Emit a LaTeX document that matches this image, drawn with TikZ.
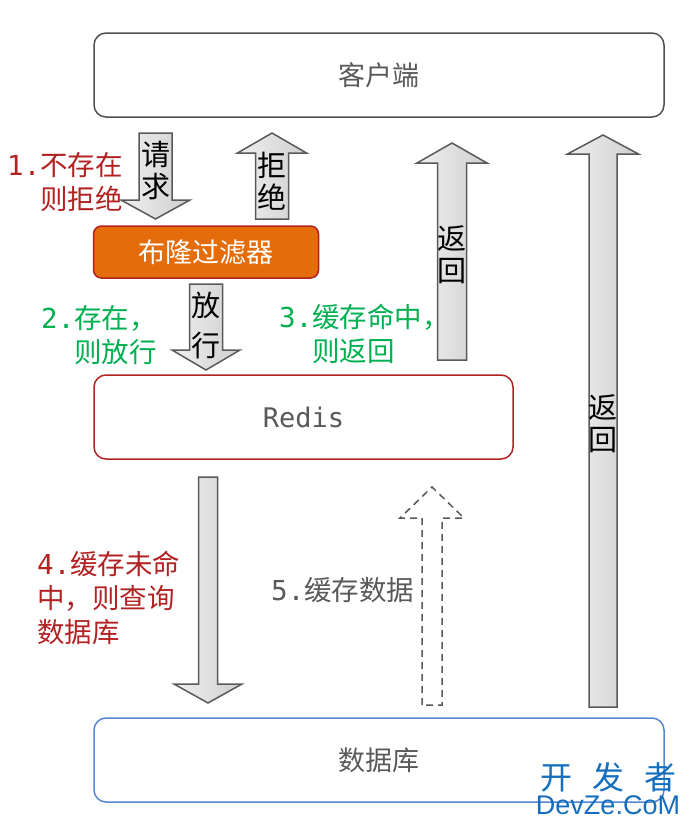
\documentclass[tikz,border=0pt]{standalone}
\usepackage{fontspec}
\setmainfont{Noto Sans CJK SC}
\setmonofont{DejaVu Sans Mono}
\usetikzlibrary{arrows.meta,positioning}
\definecolor{bfred}{RGB}{178,34,34}
\definecolor{bforange}{RGB}{228,108,10}
\definecolor{bfgreen}{RGB}{0,176,80}
\definecolor{bfgray}{RGB}{89,89,89}
\definecolor{bfblue}{RGB}{84,134,210}
\definecolor{bfmark}{RGB}{20,110,190}
% block arrow: [options]{x centre}{y tail}{y head base}{y tip}{half shaft}{half head}
\newcommand{\blockarrow}[7][]{%
  \draw[barrow, #1] (#2-#6,#3) -- (#2-#6,#4) -- (#2-#7,#4) -- (#2,#5)
    -- (#2+#7,#4) -- (#2+#6,#4) -- (#2+#6,#3) -- cycle;}

\begin{document}
\begin{tikzpicture}[x=1pt, y=-1pt,
  mbox/.style={draw, rounded corners=12pt, line width=1.5pt, text=bfgray,
    font=\fontsize{27}{32}\selectfont},
  barrow/.style={draw=bfgray, line width=1.5pt, left color=gray!12, right color=gray!38},
  atext/.style={align=center, inner sep=0pt, font=\fontsize{29}{32}\selectfont},
  lbl/.style={align=left, anchor=west, inner sep=0pt, font=\fontsize{27.5}{34}\selectfont}]
\useasboundingbox (0,0) rectangle (692,827);
% boxes
\node[mbox, draw=bfgray!90!black, minimum width=570pt, minimum height=84pt] (client) at (379,75) {客户端};
\node[mbox, draw=bfred, fill=bforange, text=white, rounded corners=8pt,
  minimum width=225pt, minimum height=52pt] (bloom) at (206,252) {布隆过滤器};
\node[mbox, draw=bfred, minimum width=419pt, minimum height=84pt] (redis) at (303.5,417) {\ttfamily Redis};
\node[mbox, draw=bfblue, minimum width=570pt, minimum height=84pt] (db) at (379,760) {数据库};
% request / reject
\blockarrow{155.5}{133}{200}{219}{16.5}{34.5}
\node[atext] (req) at (155.5,171) {请\\求};
\blockarrow{272}{219}{153}{133}{16.5}{34.5}
\node[atext] (rej) at (272,181) {拒\\绝};
% pass
\blockarrow{206}{284}{350}{370}{16.5}{34}
\node[atext, font=\fontsize{29}{40}\selectfont] (pass) at (206,325) {放\\行};
% return from redis
\blockarrow{452}{360}{163}{143}{14.5}{35}
\node[atext] (ret1) at (452,255) {返\\回};
% return from db
\blockarrow{603}{707}{154}{135}{14}{35.5}
\node[atext] (ret2) at (603,424) {返\\回};
% query db
\blockarrow{208}{477}{684}{703}{9.5}{34}
% cache data
\blockarrow[dashed, dash pattern=on 7pt off 5pt, draw=bfgray, fill=white, left color=white, right color=white]{432}{705}{518}{487}{10}{32}
% labels
\node[lbl, text=bfred] (l1) at (7,182) {{\ttfamily 1.}不存在\\\phantom{\ttfamily 1.}则拒绝};
\node[lbl, text=bfgreen] (l2) at (41,335) {{\ttfamily 2.}存在，\\\phantom{\ttfamily 2.}则放行};
\node[lbl, text=bfgreen] (l3) at (279,334) {{\ttfamily 3.}缓存命中，\\\phantom{\ttfamily 3.}则返回};
\node[lbl, text=bfred] (l4) at (37,598) {{\ttfamily 4.}缓存未命\\中，则查询\\数据库};
\node[lbl, text=bfgray] (l5) at (271,590) {{\ttfamily 5.}缓存数据};
% watermark
\node[text=bfmark, inner sep=0pt, font=\fontsize{32}{32}\selectfont] (wm1) at (608,777) {开\hspace{20pt}发\hspace{20pt}者};
\node[text=bfmark, inner sep=0pt, font=\fontsize{27}{27}\selectfont] (wm2) at (608,805) {\fontspec{Liberation Sans}DevZe.CoM};
\end{tikzpicture}
\end{document}
